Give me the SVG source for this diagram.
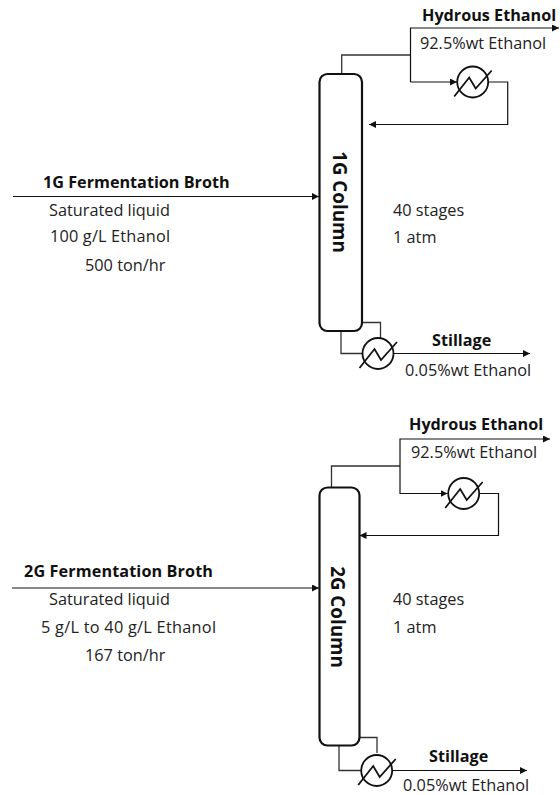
<svg xmlns="http://www.w3.org/2000/svg" width="560" height="795" viewBox="0 0 560 795">
<style>
text{font-family:"Open Sans","Noto Sans","Liberation Sans",sans-serif;fill:#222}
.b{font-weight:700;font-size:16.200px;fill:#111}
.r{font-size:16.300px}
.col{font-weight:700;font-size:18.800px;fill:#111;text-anchor:middle}
.c{fill:none;stroke:#333;stroke-width:1.3}
.k{fill:none;stroke:#111;stroke-width:1.2}
.a{marker-end:url(#ah)}
.box{fill:#fff;stroke:#111;stroke-width:2.2}
.hx{fill:#fff;stroke:#111;stroke-width:1.8}
.z{fill:none;stroke:#111;stroke-width:1.800}
</style>
<defs>
<marker id="ah" markerUnits="userSpaceOnUse" markerWidth="8" markerHeight="8" refX="7" refY="3.500" orient="auto"><path d="M0 0L7 3.500L0 7z" fill="#111"/></marker>
<g id="hxs"><circle class="hx" r="15.500"/><path class="z" d="M-18.500 14.500L-3.500 -4.500L3 6.500L19 -11.500"/></g>
</defs>
<g id="connectors">
<path class="k a" d="M13 196.500H319"/>
<path class="c" d="M341.700 74V55H410.500"/>
<path class="k a" d="M410.500 82V28H559"/>
<path class="k a" d="M410.500 82H457"/>
<path class="k a" d="M489 82H507.700V124.500H369"/>
<path class="c" d="M362 322.500H380.500V338"/>
<path class="c" d="M341 331V353.500H363"/>
<path class="k a" d="M394 353.500H530"/>
<path class="k a" d="M12 588H319"/>
<path class="c" d="M331.500 487V466H400"/>
<path class="k a" d="M400 494V439H550"/>
<path class="k a" d="M400 493.500H447.500"/>
<path class="k a" d="M480 493.500H498.500V535.500H359.500"/>
<path class="c" d="M359 737.500H377V753"/>
<path class="c" d="M339 745V770.500H361"/>
<path class="k a" d="M393 770.500H527"/>
</g>
<g id="column-1g"><rect class="box" x="319.500" y="74" width="42.500" height="257" rx="8"/><text class="col" transform="translate(339.500 202) rotate(90)" dy="6.500">1G Column</text></g>
<g id="condenser-1g"><use href="#hxs" x="472.700" y="82"/></g>
<g id="reboiler-1g"><use href="#hxs" x="378" y="353.500"/></g>
<g id="column-2g"><rect class="box" x="319.500" y="487.500" width="40" height="258" rx="8"/><text class="col" transform="translate(337.500 617) rotate(90)" dy="6.500">2G Column</text></g>
<g id="condenser-2g"><use href="#hxs" x="463.700" y="493.500"/></g>
<g id="reboiler-2g"><use href="#hxs" x="376.700" y="770.500"/></g>
<g id="labels">
<text class="b" x="422" y="21">Hydrous Ethanol</text>
<text class="r" x="420" y="49">92.5%wt Ethanol</text>
<text class="b" x="432" y="346">Stillage</text>
<text class="r" x="405" y="376">0.05%wt Ethanol</text>
<text class="b" x="43" y="188">1G Fermentation Broth</text>
<text class="r" x="49" y="216">Saturated liquid</text>
<text class="r" x="50" y="242" textLength="120">100 g/L Ethanol</text>
<text class="r" x="85" y="271">500 ton/hr</text>
<text class="r" x="393" y="216">40 stages</text>
<text class="r" x="393" y="243">1 atm</text>
<text class="b" x="409" y="430">Hydrous Ethanol</text>
<text class="r" x="411" y="458">92.5%wt Ethanol</text>
<text class="b" x="429" y="762">Stillage</text>
<text class="r" x="403" y="791">0.05%wt Ethanol</text>
<text class="b" x="24" y="577" textLength="189">2G Fermentation Broth</text>
<text class="r" x="41" y="633" textLength="175">5 g/L to 40 g/L Ethanol</text>
<text class="r" x="49" y="605">Saturated liquid</text>
<text class="r" x="85" y="661">167 ton/hr</text>
<text class="r" x="393" y="605">40 stages</text>
<text class="r" x="393" y="633">1 atm</text>
</g>
</svg>
